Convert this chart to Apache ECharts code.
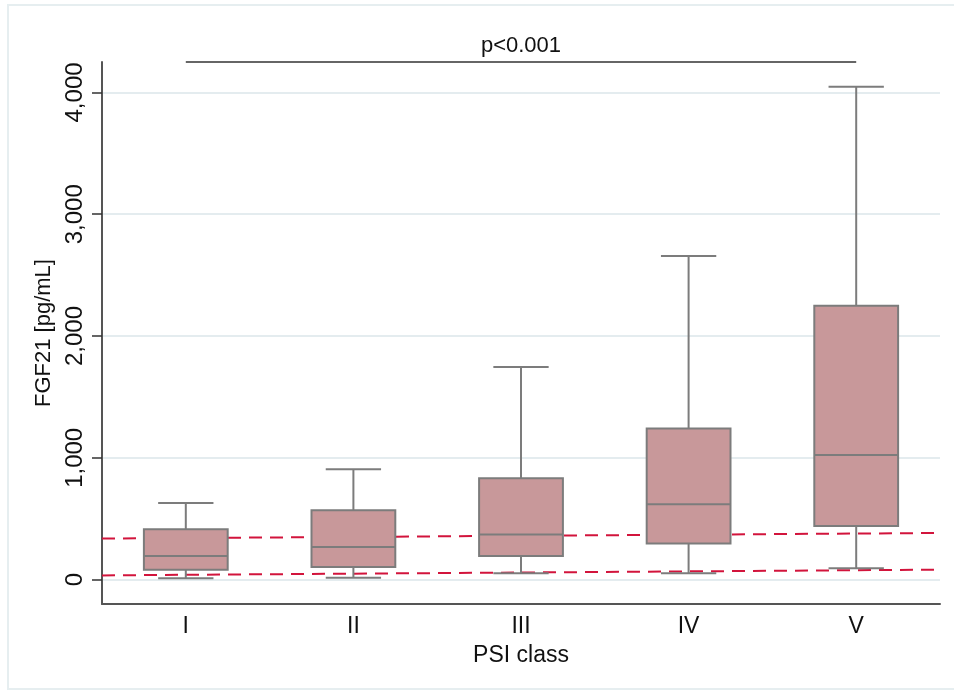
<!DOCTYPE html>
<html><head><meta charset="utf-8">
<script src="https://cdn.jsdelivr.net/npm/echarts@6/dist/echarts.min.js"></script>
<style>html,body{margin:0;padding:0;background:#fff}#c{width:954px;height:693px}</style>
</head><body><div id="c"></div>
<script>
const categories = ['I', 'II', 'III', 'IV', 'V'];
const whiskerLow = [11, 16, 52, 52, 93];
const q1 = [82, 104, 194, 296, 441];
const median = [194, 268, 370, 619, 1024];
const q3 = [413, 570, 833, 1241, 2249];
const whiskerHigh = [630, 907, 1746, 2657, 4046];
const refUpper = [337, 383];   // reference line value at left / right edge
const refLower = [35, 82];
const yTicks = [0, 1000, 2000, 3000, 4000];
const bracketLabel = 'p<0.001';
const bracketValue = 4250;

const FONT = '"Liberation Sans", Arial, sans-serif';
const chart = echarts.init(document.getElementById('c'), null, {renderer: 'canvas'});

function renderBox(params, api) {
  const idx = api.value(0);
  const band = api.size([1, 0])[0];
  const bw = band * 0.5, cw = band * 0.33;
  const pLow = api.coord([idx, api.value(1)]);
  const pQ1 = api.coord([idx, api.value(2)]);
  const pMed = api.coord([idx, api.value(3)]);
  const pQ3 = api.coord([idx, api.value(4)]);
  const pHigh = api.coord([idx, api.value(5)]);
  const cx = pMed[0];
  const st = {stroke: '#7c7c7c', lineWidth: 2, fill: null};
  return {type: 'group', children: [
    {type: 'line', shape: {x1: cx, y1: pHigh[1], x2: cx, y2: pQ3[1]}, style: st},
    {type: 'line', shape: {x1: cx - cw / 2, y1: pHigh[1], x2: cx + cw / 2, y2: pHigh[1]}, style: st},
    {type: 'line', shape: {x1: cx, y1: pQ1[1], x2: cx, y2: pLow[1]}, style: st},
    {type: 'line', shape: {x1: cx - cw / 2, y1: pLow[1], x2: cx + cw / 2, y2: pLow[1]}, style: st},
    {type: 'rect', shape: {x: cx - bw / 2, y: pQ3[1], width: bw, height: pQ1[1] - pQ3[1]},
      style: {fill: '#c8989a', stroke: '#7c7c7c', lineWidth: 2}},
    {type: 'line', shape: {x1: cx - bw / 2, y1: pMed[1], x2: cx + bw / 2, y2: pMed[1]}, style: st}
  ]};
}

const boxData = categories.map((c, i) => [i, whiskerLow[i], q1[i], median[i], q3[i], whiskerHigh[i]]);

const option = {
  animation: false,
  backgroundColor: '#ffffff',
  textStyle: {fontFamily: FONT},
  graphic: [{
    type: 'rect', silent: true, z: -10,
    shape: {x: 8, y: 5, width: 980, height: 684},
    style: {fill: null, stroke: '#e6eef0', lineWidth: 2}
  }],
  grid: {left: 102, right: 14, top: 62, bottom: 89, containLabel: false},
  xAxis: [{
    type: 'category', data: categories, boundaryGap: true,
    axisLine: {show: true, onZero: false, lineStyle: {color: '#555555', width: 2}},
    axisTick: {show: false},
    axisLabel: {fontSize: 23, color: '#111', margin: 11, fontFamily: FONT},
    splitLine: {show: false},
    name: 'PSI class', nameLocation: 'middle', nameGap: 40,
    nameTextStyle: {fontSize: 23, color: '#111', fontFamily: FONT}
  }, {
    type: 'value', min: 0, max: 1, show: false
  }],
  yAxis: [{
    type: 'value', min: -200, max: 4250,
    axisLine: {show: true, lineStyle: {color: '#555555', width: 2}},
    axisTick: {show: true, length: 10, customValues: yTicks, lineStyle: {color: '#333', width: 1.5}},
    axisLabel: {
      show: true, customValues: yTicks, rotate: 90, fontSize: 24, color: '#111', margin: 15,
      fontFamily: FONT, formatter: v => Number(v).toLocaleString('en-US')
    },
    splitLine: {show: true, lineStyle: {color: '#e4ecef', width: 2}},
    name: 'FGF21 [pg/mL]', nameLocation: 'middle', nameGap: 46,
    nameTextStyle: {fontSize: 22, color: '#111', fontFamily: FONT}
  }],
  series: [
    {
      type: 'line', xAxisIndex: 1, yAxisIndex: 0, z: 1, symbol: 'none', silent: true,
      data: [[0, refUpper[0]], [1, refUpper[1]]],
      lineStyle: {color: '#d2143c', width: 2, type: [13, 8]}
    },
    {
      type: 'line', xAxisIndex: 1, yAxisIndex: 0, z: 1, symbol: 'none', silent: true,
      data: [[0, refLower[0]], [1, refLower[1]]],
      lineStyle: {color: '#d2143c', width: 2, type: [13, 8]}
    },
    {
      type: 'custom', xAxisIndex: 0, yAxisIndex: 0, z: 3,
      renderItem: renderBox, data: boxData,
      encode: {x: 0, y: [1, 2, 3, 4, 5]}
    },
    {
      type: 'line', xAxisIndex: 0, yAxisIndex: 0, data: [], clip: false, silent: true,
      markLine: {
        silent: true, symbol: ['none', 'none'], animation: false,
        lineStyle: {color: '#666666', width: 2, type: 'solid'},
        label: {show: true, position: 'middle', formatter: bracketLabel, fontSize: 22,
          color: '#111', fontFamily: FONT, distance: 5},
        data: [[{coord: [categories[0], bracketValue]}, {coord: [categories[4], bracketValue]}]]
      }
    }
  ]
};
chart.setOption(option);
</script>
</body></html>
